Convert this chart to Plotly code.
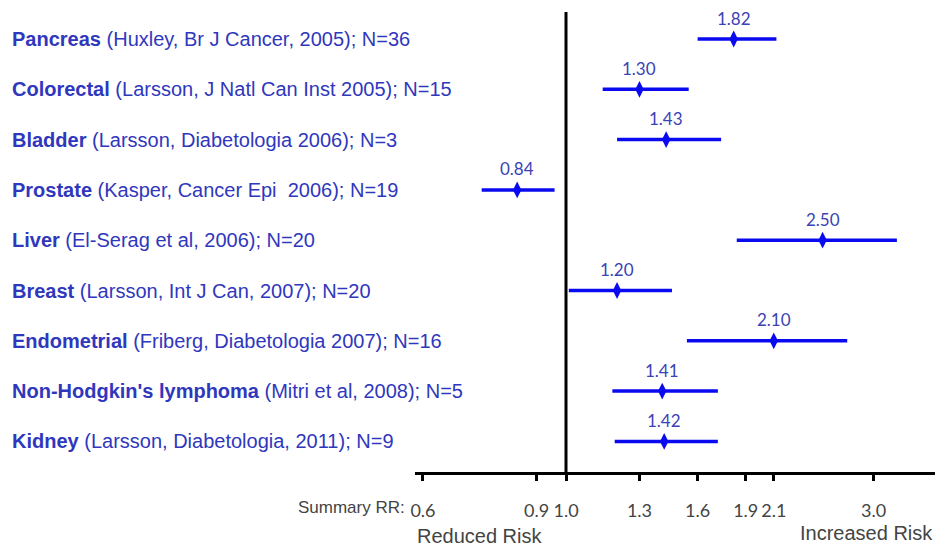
import math
import plotly.graph_objects as go

sites = ["Pancreas", "Colorectal", "Bladder", "Prostate", "Liver", "Breast",
         "Endometrial", "Non-Hodgkin's lymphoma", "Kidney"]
studies = ["(Huxley, Br J Cancer, 2005); N=36",
           "(Larsson, J Natl Can Inst 2005); N=15",
           "(Larsson, Diabetologia 2006); N=3",
           "(Kasper, Cancer Epi  2006); N=19",
           "(El-Serag et al, 2006); N=20",
           "(Larsson, Int J Can, 2007); N=20",
           "(Friberg, Diabetologia 2007); N=16",
           "(Mitri et al, 2008); N=5",
           "(Larsson, Diabetologia, 2011); N=9"]
rr = [1.82, 1.30, 1.43, 0.84, 2.50, 1.20, 2.10, 1.41, 1.42]
ci_low = [1.60, 1.14, 1.20, 0.74, 1.84, 1.01, 1.54, 1.18, 1.19]
ci_high = [2.12, 1.55, 1.74, 0.96, 3.26, 1.46, 2.73, 1.72, 1.72]
tick_vals = [0.6, 0.9, 1.0, 1.3, 1.6, 1.9, 2.1, 3.0]
tick_text = ["0.6", "0.9", "1.0", "1.3", "1.6", "1.9", "2.1", "3.0"]

rows = list(range(len(sites)))
BLUE = "#0a0af0"
TXT_BLUE = "#2f37bd"
GRAY = "#444444"

fig = go.Figure()
fig.add_trace(go.Scatter(
    x=rr, y=rows, mode="markers",
    marker=dict(symbol="diamond-tall", size=12, color=BLUE),
    error_x=dict(type="data", symmetric=False,
                 array=[h - r for h, r in zip(ci_high, rr)],
                 arrayminus=[r - l for r, l in zip(rr, ci_low)],
                 color=BLUE, thickness=3.5, width=0),
    showlegend=False, hoverinfo="skip"))

# reference line at RR = 1
fig.add_shape(type="line", xref="x", yref="paper", x0=1.0, x1=1.0, y0=0, y1=1,
              line=dict(color="black", width=3))

annotations = []
for i, (s, st) in enumerate(zip(sites, studies)):
    annotations.append(dict(
        xref="paper", yref="y", x=-0.779, y=i, xanchor="left", yanchor="middle",
        text=f"<b>{s}</b> {st}", showarrow=False,
        font=dict(family="Liberation Sans, Arial", size=20, color=TXT_BLUE)))
for i, v in enumerate(rr):
    annotations.append(dict(
        xref="x", yref="y", x=math.log10(v), y=i, yshift=21, text=f"{v:.2f}",
        showarrow=False, xanchor="center", yanchor="middle",
        font=dict(family="Lato, Open Sans", size=17, color="#3a42b5")))
annotations += [
    dict(xref="paper", yref="paper", x=-0.015, y=-0.078, xanchor="right", yanchor="middle",
         text="Summary RR:", showarrow=False,
         font=dict(family="Liberation Sans, Arial", size=17, color=GRAY)),
    dict(xref="paper", yref="paper", x=0.0, y=-0.139, xanchor="left", yanchor="middle",
         text="Reduced Risk", showarrow=False,
         font=dict(family="Liberation Sans, Arial", size=20, color=GRAY)),
    dict(xref="paper", yref="paper", x=1.0, y=-0.1326, xanchor="right", yanchor="middle",
         text="Increased Risk", showarrow=False,
         font=dict(family="Liberation Sans, Arial", size=20, color=GRAY)),
]

fig.update_layout(
    width=941, height=547,
    margin=dict(l=415, r=6, t=12, b=75),
    paper_bgcolor="white", plot_bgcolor="white",
    annotations=annotations,
    xaxis=dict(type="log", range=[-0.2342, 0.5723],
               tickvals=tick_vals, ticktext=tick_text,
               showgrid=False, zeroline=False,
               showline=True, linecolor="black", linewidth=3,
               ticks="outside", ticklen=6, tickwidth=3, tickcolor="black",
               ticklabelstandoff=14,
               tickfont=dict(family="Lato, Open Sans", size=18, color=GRAY)),
    yaxis=dict(range=[8.608, -0.537], showticklabels=False, showgrid=False,
               zeroline=False, showline=False, ticks=""),
)

fig.write_html("out.html", config={"displayModeBar": False},
               post_script="document.body.style.margin='0px';")
